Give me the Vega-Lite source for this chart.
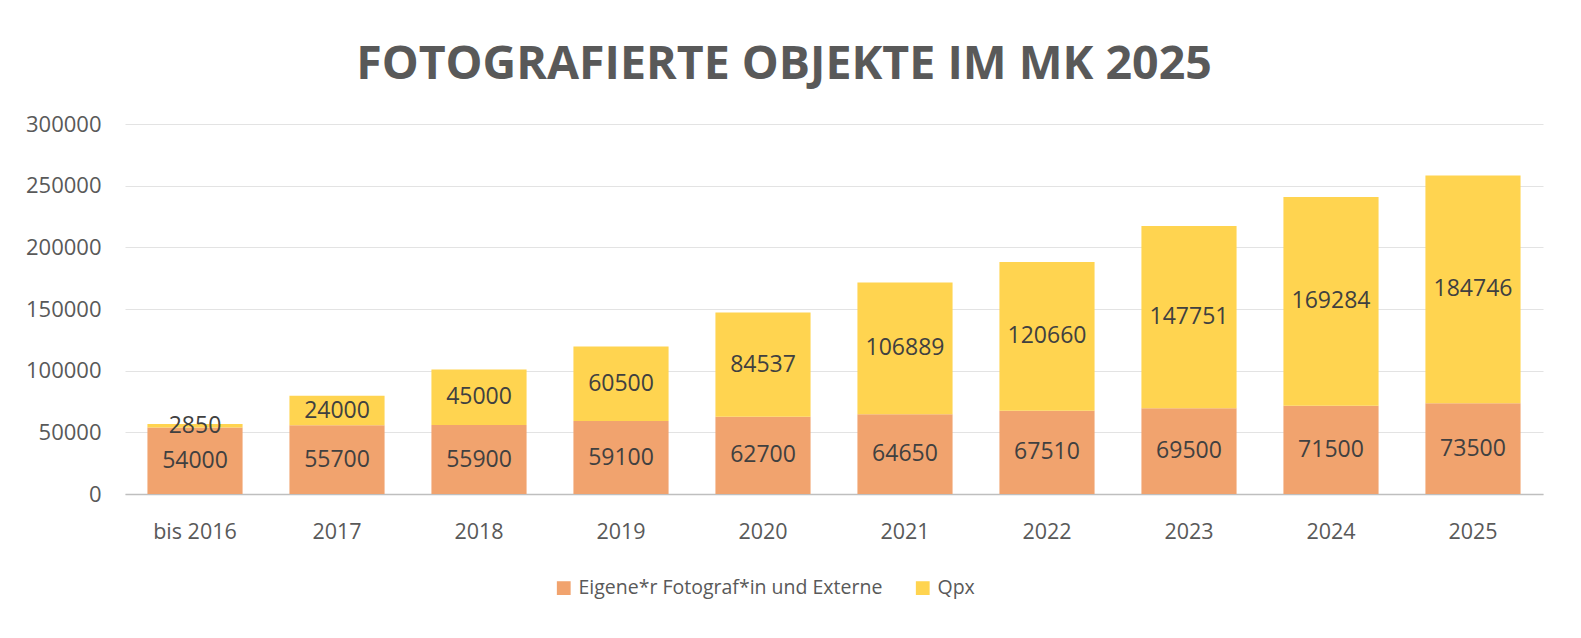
{
  "$schema": "https://vega.github.io/schema/vega-lite/v6.json",
  "width": 1418,
  "height": 370,
  "autosize": {"type": "none"},
  "padding": {"left": 125, "top": 124, "right": 38, "bottom": 144},
  "background": "white",
  "config": {"view": {"stroke": null}},
  "title": {
    "text": "FOTOGRAFIERTE OBJEKTE IM MK 2025",
    "font": "Open Sans",
    "fontSize": 46.5,
    "fontWeight": "bold",
    "color": "#595959",
    "anchor": "middle",
    "dx": -50,
    "offset": 25
  },
  "data": {
    "values": [
      {"jahr": "bis 2016", "gruppe": "Eigene*r Fotograf*in und Externe", "rang": 1, "anzahl": 54000},
      {"jahr": "bis 2016", "gruppe": "Qpx", "rang": 2, "anzahl": 2850},
      {"jahr": "2017", "gruppe": "Eigene*r Fotograf*in und Externe", "rang": 1, "anzahl": 55700},
      {"jahr": "2017", "gruppe": "Qpx", "rang": 2, "anzahl": 24000},
      {"jahr": "2018", "gruppe": "Eigene*r Fotograf*in und Externe", "rang": 1, "anzahl": 55900},
      {"jahr": "2018", "gruppe": "Qpx", "rang": 2, "anzahl": 45000},
      {"jahr": "2019", "gruppe": "Eigene*r Fotograf*in und Externe", "rang": 1, "anzahl": 59100},
      {"jahr": "2019", "gruppe": "Qpx", "rang": 2, "anzahl": 60500},
      {"jahr": "2020", "gruppe": "Eigene*r Fotograf*in und Externe", "rang": 1, "anzahl": 62700},
      {"jahr": "2020", "gruppe": "Qpx", "rang": 2, "anzahl": 84537},
      {"jahr": "2021", "gruppe": "Eigene*r Fotograf*in und Externe", "rang": 1, "anzahl": 64650},
      {"jahr": "2021", "gruppe": "Qpx", "rang": 2, "anzahl": 106889},
      {"jahr": "2022", "gruppe": "Eigene*r Fotograf*in und Externe", "rang": 1, "anzahl": 67510},
      {"jahr": "2022", "gruppe": "Qpx", "rang": 2, "anzahl": 120660},
      {"jahr": "2023", "gruppe": "Eigene*r Fotograf*in und Externe", "rang": 1, "anzahl": 69500},
      {"jahr": "2023", "gruppe": "Qpx", "rang": 2, "anzahl": 147751},
      {"jahr": "2024", "gruppe": "Eigene*r Fotograf*in und Externe", "rang": 1, "anzahl": 71500},
      {"jahr": "2024", "gruppe": "Qpx", "rang": 2, "anzahl": 169284},
      {"jahr": "2025", "gruppe": "Eigene*r Fotograf*in und Externe", "rang": 1, "anzahl": 73500},
      {"jahr": "2025", "gruppe": "Qpx", "rang": 2, "anzahl": 184746}
    ]
  },
  "transform": [
    {"stack": "anzahl", "groupby": ["jahr"], "sort": [{"field": "rang"}], "as": ["unten", "oben"]},
    {"calculate": "(datum.unten + datum.oben) / 2", "as": "mitte"}
  ],
  "encoding": {
    "x": {
      "field": "jahr",
      "type": "ordinal",
      "sort": null,
      "title": null,
      "scale": {"paddingInner": 0.33, "paddingOuter": 0.158},
      "axis": {
        "labelAngle": 0,
        "labelFont": "Open Sans",
        "labelFontSize": 21.5,
        "labelColor": "#595959",
        "labelPadding": 27,
        "ticks": false,
        "domainColor": "#BFBFBF",
        "domainWidth": 1.5
      }
    }
  },
  "layer": [
    {
      "mark": {"type": "bar"},
      "encoding": {
        "y": {
          "field": "unten",
          "type": "quantitative",
          "title": null,
          "scale": {"domain": [0, 300000]},
          "axis": {
            "values": [0, 50000, 100000, 150000, 200000, 250000, 300000],
            "format": "d",
            "labelFont": "Open Sans",
            "labelFontSize": 22,
            "labelColor": "#595959",
            "labelPadding": 24,
            "ticks": false,
            "domain": false,
            "gridColor": "#E3E3E3",
            "gridWidth": 1.2
          }
        },
        "y2": {"field": "oben"},
        "color": {
          "field": "gruppe",
          "type": "nominal",
          "sort": ["Eigene*r Fotograf*in und Externe", "Qpx"],
          "scale": {
            "domain": ["Eigene*r Fotograf*in und Externe", "Qpx"],
            "range": ["#F1A36E", "#FFD450"]
          },
          "legend": {
            "title": null,
            "orient": "none",
            "direction": "horizontal",
            "legendX": 429,
            "legendY": 454,
            "symbolType": "square",
            "symbolSize": 190,
            "symbolStrokeWidth": 0,
            "labelFont": "Open Sans",
            "labelFontSize": 19.5,
            "labelLimit": 0,
            "labelColor": "#595959",
            "labelOffset": 5,
            "columnPadding": 30
          }
        }
      }
    },
    {
      "mark": {"type": "text", "font": "Open Sans", "fontSize": 23, "color": "#404040", "baseline": "middle"},
      "encoding": {
        "y": {"field": "mitte", "type": "quantitative"},
        "text": {"field": "anzahl", "type": "quantitative", "format": "d"}
      }
    }
  ]
}
